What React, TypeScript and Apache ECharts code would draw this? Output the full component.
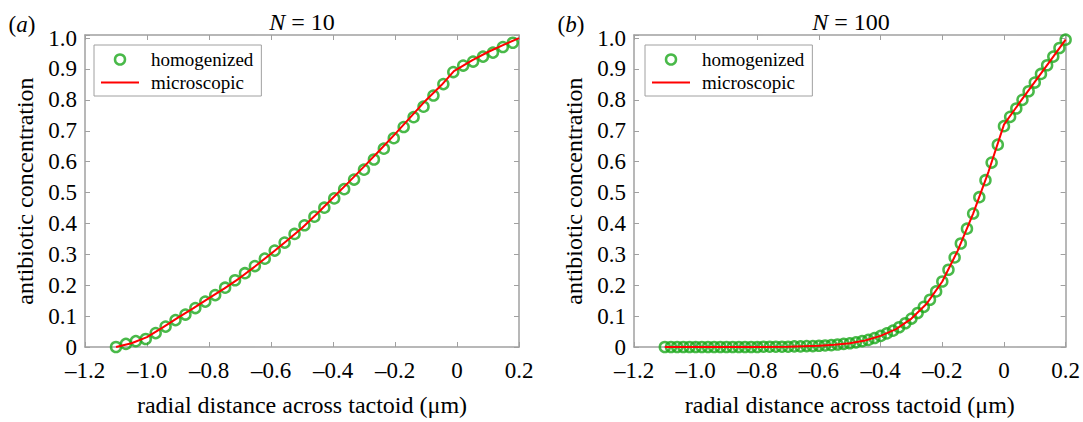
import React, { useEffect, useRef } from "react";
import * as echarts from "echarts";

const FONT = '"Liberation Serif", "Times New Roman", serif';
const GRAY = "#a0a0a0";
const GREEN = "#1ca81c";
const RED = "#ff0000";

// Panel (a): N = 10
const leftHomX = [
  -1.1, -1.068, -1.036, -1.004, -0.972, -0.94, -0.908, -0.876, -0.844, -0.812,
  -0.78, -0.748, -0.716, -0.684, -0.652, -0.62, -0.588, -0.556, -0.524, -0.492,
  -0.46, -0.428, -0.396, -0.364, -0.332, -0.3, -0.268, -0.236, -0.204, -0.172,
  -0.14, -0.108, -0.076, -0.044, -0.012, 0.02, 0.052, 0.084, 0.116, 0.148, 0.18,
];
const leftHomY = [
  0.0, 0.01, 0.019, 0.026, 0.045, 0.066, 0.087, 0.105, 0.126, 0.147,
  0.168, 0.192, 0.216, 0.239, 0.262, 0.286, 0.312, 0.338, 0.366, 0.394,
  0.422, 0.451, 0.481, 0.511, 0.542, 0.574, 0.607, 0.642, 0.676, 0.712,
  0.744, 0.778, 0.814, 0.851, 0.89, 0.911, 0.924, 0.94, 0.953, 0.971, 0.985,
];
const leftMicX = [
  -1.1, -1.05, -1.0, -0.95, -0.9, -0.85, -0.8, -0.75, -0.7, -0.65, -0.6, -0.55,
  -0.5, -0.45, -0.4, -0.35, -0.3, -0.25, -0.2, -0.15, -0.1, -0.05, -0.01, 0.05,
  0.1, 0.15, 0.2,
];
const leftMicY = [
  0.0, 0.012, 0.032, 0.063, 0.095, 0.126, 0.158, 0.19, 0.224, 0.262, 0.302, 0.343,
  0.385, 0.433, 0.483, 0.533, 0.584, 0.636, 0.689, 0.744, 0.799, 0.848, 0.893, 0.929,
  0.955, 0.978, 1.0,
];

// Panel (b): N = 100
const rightHomX = [
  -1.1, -1.08, -1.06, -1.04, -1.02, -1.0, -0.98, -0.96, -0.94, -0.92, -0.9, -0.88,
  -0.86, -0.84, -0.82, -0.8, -0.78, -0.76, -0.74, -0.72, -0.7, -0.68, -0.66, -0.64,
  -0.62, -0.6, -0.58, -0.56, -0.54, -0.52, -0.5, -0.48, -0.46, -0.44, -0.42, -0.4,
  -0.38, -0.36, -0.34, -0.32, -0.3, -0.28, -0.26, -0.24, -0.22, -0.2, -0.18, -0.16,
  -0.14, -0.12, -0.1, -0.08, -0.06, -0.04, -0.02, 0.0, 0.02, 0.04, 0.06, 0.08, 0.1,
  0.12, 0.14, 0.16, 0.18, 0.2,
];
const rightHomY = [
  0, 0, 0, 0, 0, 0, 0, 0, 0, 0, 0, 0,
  0, 0, 0, 0, 0.001, 0.001, 0.001, 0.001, 0.001, 0.002, 0.002, 0.003,
  0.003, 0.004, 0.005, 0.006, 0.008, 0.01, 0.012, 0.015, 0.019, 0.023, 0.029, 0.036,
  0.044, 0.053, 0.064, 0.077, 0.092, 0.11, 0.13, 0.153, 0.18, 0.212, 0.25, 0.29,
  0.335, 0.383, 0.432, 0.485, 0.54, 0.597, 0.655, 0.715, 0.745, 0.772, 0.8, 0.828, 0.856,
  0.884, 0.912, 0.94, 0.968, 0.995,
];
const rightMicX = [
  -1.1, -0.8, -0.7, -0.6, -0.55, -0.5, -0.45, -0.4, -0.35, -0.3, -0.25, -0.2,
  -0.15, -0.1, -0.05, 0.0, 0.05, 0.1, 0.15, 0.2,
];
const rightMicY = [
  0, 0, 0.001, 0.004, 0.007, 0.012, 0.021, 0.036, 0.058, 0.092, 0.141, 0.212,
  0.312, 0.432, 0.568, 0.72, 0.79, 0.858, 0.926, 0.995,
];

const seriesNames = ["homogenized", "microscopic"];
const panelTitles = ["10", "100"];
const panelLetters = ["a", "b"];
const xTitle = "radial distance across tactoid (\u03bcm)";
const yTitle = "antibiotic concentration";

const zip = (xs: number[], ys: number[]) => xs.map((x, i) => [x, ys[i]]);

const xFmt = (v: number) => {
  if (Math.abs(v) < 1e-9) return "0";
  return (v < 0 ? "\u2013" : "") + Math.abs(v).toFixed(1);
};
const yFmt = (v: number) => {
  const r = Math.round(v * 10);
  if (Math.abs(v * 10 - r) > 1e-6) return "";
  return r === 0 ? "0" : (r / 10).toFixed(1);
};

const grids = [
  { left: 85, right: 564, top: 35, bottom: 66 },
  { left: 634, right: 15, top: 35, bottom: 66 },
];

export default function App() {
  const ref = useRef<HTMLDivElement>(null);
  useEffect(() => {
    if (!ref.current) return;
    const chart = echarts.init(ref.current, undefined, { renderer: "svg" });

    const xAxes: any[] = [];
    const yAxes: any[] = [];
    grids.forEach((_, g) => {
      const lineCfg = { show: true, onZero: false, lineStyle: { color: GRAY, width: 1.5 } };
      const tickCfg = { show: true, inside: true, length: 5, lineStyle: { color: GRAY, width: 1 } };
      xAxes.push({
        type: "value", gridIndex: g, position: "bottom", min: -1.2, max: 0.2, interval: 0.2,
        axisLine: lineCfg, axisTick: tickCfg, splitLine: { show: false },
        axisLabel: { formatter: xFmt, fontFamily: FONT, fontSize: 23, lineHeight: 23, color: "#000", margin: 12 },
        name: xTitle, nameLocation: "middle", nameGap: 46,
        nameTextStyle: { fontFamily: FONT, fontSize: 24, color: "#000" },
      });
      xAxes.push({
        type: "value", gridIndex: g, position: "top", min: -1.2, max: 0.2, interval: 0.2,
        axisLine: lineCfg, axisTick: tickCfg, splitLine: { show: false },
        axisLabel: { show: false },
      });
      yAxes.push({
        type: "value", gridIndex: g, position: "left", min: 0, max: 1.01, interval: 0.1,
        axisLine: lineCfg, axisTick: tickCfg, splitLine: { show: false },
        axisLabel: { formatter: yFmt, fontFamily: FONT, fontSize: 23, lineHeight: 21, color: "#000", margin: 8 },
        name: yTitle, nameLocation: "middle", nameGap: 48, nameRotate: 90,
        nameTextStyle: { fontFamily: FONT, fontSize: 24, color: "#000" },
      });
      yAxes.push({
        type: "value", gridIndex: g, position: "right", min: 0, max: 1.01, interval: 0.1,
        axisLine: lineCfg, axisTick: tickCfg, splitLine: { show: false },
        axisLabel: { show: false },
      });
    });

    const panels = [
      { hom: zip(leftHomX, leftHomY), mic: zip(leftMicX, leftMicY) },
      { hom: zip(rightHomX, rightHomY), mic: zip(rightMicX, rightMicY) },
    ];
    const series: any[] = [];
    panels.forEach((p, g) => {
      series.push({
        type: "scatter", name: seriesNames[0], xAxisIndex: g * 2, yAxisIndex: g * 2,
        data: p.hom, symbol: "circle", symbolSize: 10,
        itemStyle: { color: "rgba(0,0,0,0)", borderColor: GREEN, borderWidth: 2.5 },
        z: 2,
      });
      series.push({
        type: "line", name: seriesNames[1], xAxisIndex: g * 2, yAxisIndex: g * 2,
        data: p.mic, symbol: "none", showSymbol: false,
        lineStyle: { color: RED, width: 2 }, itemStyle: { color: RED },
        z: 3,
      });
    });

    const legendData = [
      {
        name: seriesNames[0], icon: "circle",
        itemStyle: { color: "rgba(0,0,0,0)", borderColor: GREEN, borderWidth: 2.5 },
      },
      {
        name: seriesNames[1],
        itemStyle: { color: "rgba(0,0,0,0)", borderColor: "rgba(0,0,0,0)", borderWidth: 0, opacity: 0 },
        lineStyle: { color: RED, width: 2 },
      },
    ];
    const legends = [94, 645].map((left) => ({
      left, top: 45, orient: "vertical", data: legendData,
      backgroundColor: "#fff", borderColor: GRAY, borderWidth: 1,
      padding: [5, 8, 4, 6], itemWidth: 38, itemHeight: 10, itemGap: 4,
      selectedMode: false,
      textStyle: { fontFamily: FONT, fontSize: 19, color: "#000", padding: [0, 0, 0, 7] },
    }));

    const graphic: any[] = [];
    [302, 851].forEach((cx, g) => {
      graphic.push({
        type: "text", x: cx, y: 22,
        style: {
          text: "{i|N} = " + panelTitles[g],
          rich: { i: { fontStyle: "italic", fontFamily: FONT, fontSize: 24, fill: "#000" } },
          fontFamily: FONT, fontSize: 24, fill: "#000", align: "center", verticalAlign: "middle",
        },
      });
    });
    [22, 571].forEach((cx, g) => {
      graphic.push({
        type: "text", x: cx, y: 24,
        style: {
          text: "({i|" + panelLetters[g] + "})",
          rich: { i: { fontStyle: "italic", fontFamily: FONT, fontSize: 23, fill: "#000" } },
          fontFamily: FONT, fontSize: 23, fill: "#000", align: "center", verticalAlign: "middle",
        },
      });
    });

    chart.setOption({
      animation: false,
      backgroundColor: "#fff",
      grid: grids,
      xAxis: xAxes,
      yAxis: yAxes,
      legend: legends,
      series,
      graphic,
    });
    return () => chart.dispose();
  }, []);
  return (
    <div
      ref={ref}
      style={{ position: "fixed", left: 0, top: 0, width: 1083, height: 422, background: "#fff" }}
    />
  );
}
